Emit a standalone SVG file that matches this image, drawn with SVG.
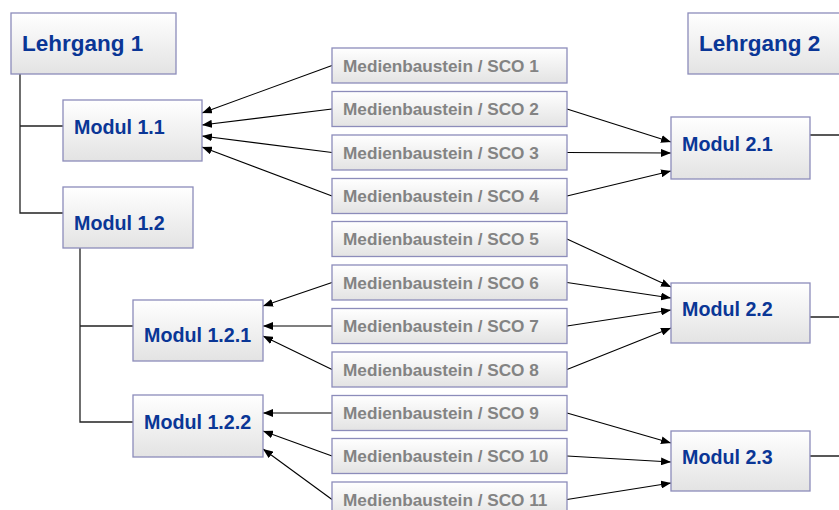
<svg xmlns="http://www.w3.org/2000/svg" width="839" height="510" viewBox="0 0 839 510">
  <style>
    .box { stroke: #8c8cba; stroke-width: 1.3; fill: url(#boxFill); }
    .course { font: bold 22.5px "Liberation Sans", Arial, sans-serif; fill: #0a3696; }
    .module { font: bold 19.7px "Liberation Sans", Arial, sans-serif; fill: #0a3696; }
    .sco { font: bold 17.2px "Liberation Sans", Arial, sans-serif; fill: #838383; }
    .tree { stroke: #222; stroke-width: 1.3; fill: none; }
    .link { stroke: #000; stroke-width: 1.1; fill: none; marker-end: url(#arrow); }
  </style>
  <defs>
    <linearGradient id="boxFill" x1="0" y1="0" x2="0" y2="1">
      <stop offset="0" stop-color="#ffffff"/>
      <stop offset="1" stop-color="#e3e3e3"/>
    </linearGradient>
    <marker id="arrow" viewBox="0 0 10 8" refX="10" refY="4" markerWidth="10" markerHeight="8" markerUnits="userSpaceOnUse" orient="auto">
      <path d="M0,0 L10,4 L0,8 Z" fill="#000"/>
    </marker>
  </defs>

  <!-- tree lines and arrows -->
  <g id="connectors">
    <path class="tree" d="M20,74 V213 H63 M20,126 H63"/>
    <path class="tree" d="M80,248 V422 H133 M80,326 H133"/>
    <path class="tree" d="M810,135 H839 M810,317 H839 M810,456 H839"/>

    <line class="link" x1="332" y1="65.5" x2="202" y2="113"/>
    <line class="link" x1="332" y1="109" x2="202" y2="125"/>
    <line class="link" x1="332" y1="152.5" x2="202" y2="136"/>
    <line class="link" x1="332" y1="196" x2="202" y2="147"/>

    <line class="link" x1="332" y1="282.5" x2="263" y2="306"/>
    <line class="link" x1="332" y1="326" x2="263" y2="326"/>
    <line class="link" x1="332" y1="369.5" x2="263" y2="336"/>

    <line class="link" x1="332" y1="413" x2="263" y2="413"/>
    <line class="link" x1="332" y1="456" x2="263" y2="431"/>
    <line class="link" x1="332" y1="499.5" x2="263" y2="449"/>

    <line class="link" x1="567" y1="109" x2="671" y2="142"/>
    <line class="link" x1="567" y1="152.5" x2="671" y2="153"/>
    <line class="link" x1="567" y1="196" x2="671" y2="171"/>

    <line class="link" x1="567" y1="239" x2="671" y2="287"/>
    <line class="link" x1="567" y1="282.5" x2="671" y2="298"/>
    <line class="link" x1="567" y1="326" x2="671" y2="310"/>
    <line class="link" x1="567" y1="369.5" x2="671" y2="328"/>

    <line class="link" x1="567" y1="413" x2="671" y2="443"/>
    <line class="link" x1="567" y1="456" x2="671" y2="462"/>
    <line class="link" x1="567" y1="499.5" x2="671" y2="483"/>
  </g>

  <!-- course 1 -->
  <g id="lehrgang1"><rect class="box" x="11" y="13" width="165" height="61"/><text class="course" x="22" y="51">Lehrgang 1</text></g>
  <g id="modul11"><rect class="box" x="63" y="100" width="139" height="61"/><text class="module" x="74" y="134">Modul 1.1</text></g>
  <g id="modul12"><rect class="box" x="63" y="187" width="130" height="61"/><text class="module" x="74" y="230">Modul 1.2</text></g>
  <g id="modul121"><rect class="box" x="133" y="300" width="130" height="61"/><text class="module" x="144" y="342">Modul 1.2.1</text></g>
  <g id="modul122"><rect class="box" x="133" y="395" width="130" height="62"/><text class="module" x="144" y="429">Modul 1.2.2</text></g>

  <!-- media building blocks -->
  <g id="sco1"><rect class="box" x="332" y="48" width="235" height="35"/><text class="sco" x="343" y="71.5">Medienbaustein / SCO 1</text></g>
  <g id="sco2"><rect class="box" x="332" y="91.5" width="235" height="35"/><text class="sco" x="343" y="115">Medienbaustein / SCO 2</text></g>
  <g id="sco3"><rect class="box" x="332" y="135" width="235" height="35"/><text class="sco" x="343" y="158.5">Medienbaustein / SCO 3</text></g>
  <g id="sco4"><rect class="box" x="332" y="178.5" width="235" height="35"/><text class="sco" x="343" y="202">Medienbaustein / SCO 4</text></g>
  <g id="sco5"><rect class="box" x="332" y="221.5" width="235" height="35"/><text class="sco" x="343" y="245">Medienbaustein / SCO 5</text></g>
  <g id="sco6"><rect class="box" x="332" y="265" width="235" height="35"/><text class="sco" x="343" y="288.5">Medienbaustein / SCO 6</text></g>
  <g id="sco7"><rect class="box" x="332" y="308.5" width="235" height="35"/><text class="sco" x="343" y="332">Medienbaustein / SCO 7</text></g>
  <g id="sco8"><rect class="box" x="332" y="352" width="235" height="35"/><text class="sco" x="343" y="375.5">Medienbaustein / SCO 8</text></g>
  <g id="sco9"><rect class="box" x="332" y="395.5" width="235" height="35"/><text class="sco" x="343" y="419">Medienbaustein / SCO 9</text></g>
  <g id="sco10"><rect class="box" x="332" y="438.5" width="235" height="35"/><text class="sco" x="343" y="462">Medienbaustein / SCO 10</text></g>
  <g id="sco11"><rect class="box" x="332" y="482" width="235" height="35"/><text class="sco" x="343" y="505.5">Medienbaustein / SCO 11</text></g>

  <!-- course 2 -->
  <g id="lehrgang2"><rect class="box" x="688" y="13" width="160" height="61"/><text class="course" x="699" y="51">Lehrgang 2</text></g>
  <g id="modul21"><rect class="box" x="671" y="117" width="139" height="62"/><text class="module" x="682" y="151">Modul 2.1</text></g>
  <g id="modul22"><rect class="box" x="671" y="283" width="139" height="60"/><text class="module" x="682" y="316">Modul 2.2</text></g>
  <g id="modul23"><rect class="box" x="671" y="431" width="139" height="60"/><text class="module" x="682" y="464">Modul 2.3</text></g>
</svg>
